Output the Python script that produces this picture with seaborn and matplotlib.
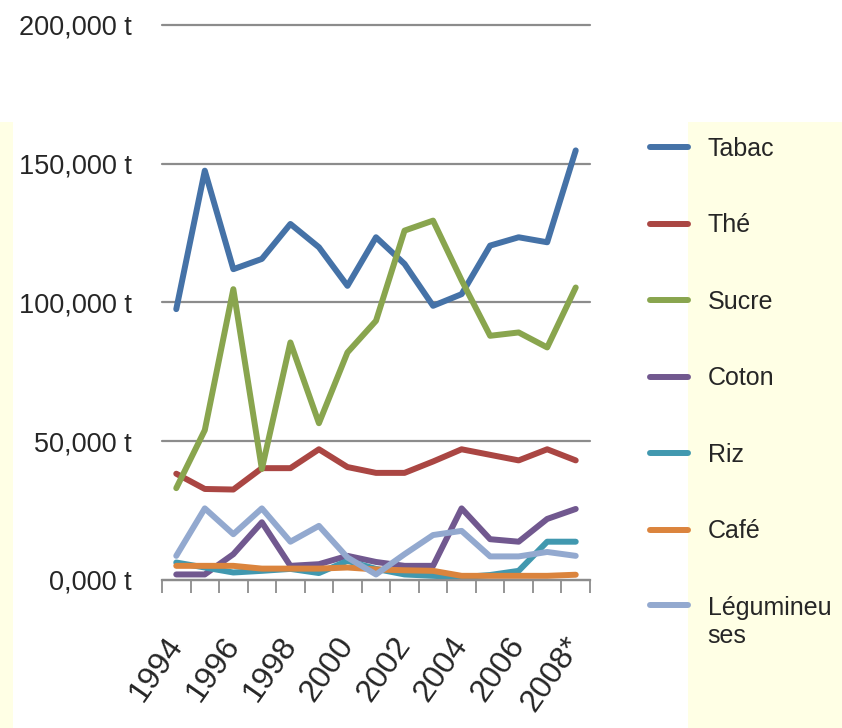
import numpy as np
import pandas as pd
import matplotlib
matplotlib.use('Agg')
import matplotlib.pyplot as plt
import matplotlib.transforms as mtransforms
from matplotlib.patches import Rectangle
from matplotlib.ticker import FixedLocator
import seaborn as sns

# data (tonnes)
years = ['1994', '1995', '1996', '1997', '1998', '1999', '2000', '2001',
         '2002', '2003', '2004', '2005', '2006', '2007', '2008*']
tabac = [97600, 147500, 112000, 115700, 128300, 119900, 106000, 123500,
         113900, 98800, 103000, 120500, 123500, 121700, 154800]
the = [38300, 32800, 32600, 40300, 40300, 47100, 40700, 38600,
       38600, 42700, 47100, 45100, 43100, 47100, 43100]
sucre = [33100, 54000, 104800, 40000, 85600, 56500, 82000, 93400,
         125900, 129500, 108000, 88000, 89200, 83800, 105400]
coton = [2000, 2000, 9300, 20800, 5100, 5700, 8700, 6500,
         5100, 5100, 25800, 14700, 13800, 22000, 25600]
riz = [6300, 4500, 2700, 3300, 4000, 2500, 6900, 4000,
       2000, 1500, 1000, 1800, 3300, 13800, 13800]
cafe = [5100, 5100, 5100, 4100, 4100, 4100, 4500, 3800,
        3500, 3300, 1500, 1500, 1500, 1500, 1900]
legumineuses = [8700, 25800, 16500, 25800, 13800, 19500, 8100, 2000,
                9300, 16200, 17700, 8500, 8500, 10100, 8700]

products = ['Tabac', 'Thé', 'Sucre', 'Coton', 'Riz', 'Café', 'Légumineuses']
legend_labels = ['Tabac', 'Thé', 'Sucre', 'Coton', 'Riz', 'Café', 'Légumineu\nses']
series = [tabac, the, sucre, coton, riz, cafe, legumineuses]
colors = ['#4572A7', '#AA4643', '#89A54E', '#71588F', '#4198AF', '#DB843D', '#93A9CF']

y_ticks = [0, 50000, 100000, 150000, 200000]
y_labels = ['0,000 t', '50,000 t', '100,000 t', '150,000 t', '200,000 t']

rows = []
for name, vals in zip(products, series):
    for i, v in enumerate(vals):
        rows.append({'pos': i, 'year': years[i], 'produit': name, 'tonnes': v})
df = pd.DataFrame(rows)

sns.set_style('white')
plt.rcParams['font.family'] = ['Liberation Sans', 'DejaVu Sans']

fig = plt.figure(figsize=(8.42, 7.28), dpi=100)
fig.patch.set_facecolor('white')

# light yellow side panels
yellow = '#FFFFE5'
fig.add_artist(Rectangle((0, 0), 0.0154, 0.8324, transform=fig.transFigure,
                         facecolor=yellow, edgecolor='none', zorder=0))
fig.add_artist(Rectangle((0.8171, 0), 0.1829, 0.8324, transform=fig.transFigure,
                         facecolor=yellow, edgecolor='none', zorder=0))

ax = fig.add_axes([0.1924, 0.2033, 0.5083, 0.7624])
ax.set_facecolor('none')

sns.lineplot(data=df, x='pos', y='tonnes', hue='produit', hue_order=products,
             palette=colors, linewidth=4.3, ax=ax)

ax.set_xlim(-0.5, len(years) - 0.5)
ax.set_ylim(0, 200000)
ax.set_xlabel('')
ax.set_ylabel('')

# y axis: gray gridlines, labels
ax.set_yticks(y_ticks)
ax.set_yticklabels(y_labels, fontsize=19.5)
ax.tick_params(axis='y', length=0, pad=21.6)
ax.yaxis.grid(True, color='#8C8C8C', linewidth=1.6)
for gl in ax.get_ygridlines():
    gl.set_clip_on(False)

# x axis: category boundary ticks + rotated year labels
ax.set_xticks(range(0, len(years), 2))
ax.set_xticklabels(years[::2], rotation=55, ha='right', va='top', fontsize=23)
ax.xaxis.set_minor_locator(FixedLocator(np.arange(-0.5, len(years), 1)))
ax.tick_params(axis='x', which='major', length=0, pad=37)
ax.tick_params(axis='x', which='minor', length=9.5, width=1.3, color='#8C8C8C',
               direction='out', bottom=True)
shift = mtransforms.ScaledTranslation(9 / 72, 0, fig.dpi_scale_trans)
for lab in ax.get_xticklabels():
    lab.set_transform(lab.get_transform() + shift)

for side in ['top', 'right', 'left']:
    ax.spines[side].set_visible(False)
ax.spines['bottom'].set_color('#8C8C8C')
ax.spines['bottom'].set_linewidth(1.6)

handles, _ = ax.get_legend_handles_labels()
leg = ax.legend(handles, legend_labels, loc='upper left',
                bbox_to_anchor=(0.772, 0.812), bbox_transform=fig.transFigure,
                frameon=False, fontsize=18, handlelength=1.5, handletextpad=0.8,
                labelspacing=2.1, borderpad=0, borderaxespad=0)
# wrapped last label: put the line level with its first text line
last_row = leg._legend_handle_box.get_children()[0].get_children()[-1]
last_row.align = 'top'

fig.savefig('out.png', dpi=100)
